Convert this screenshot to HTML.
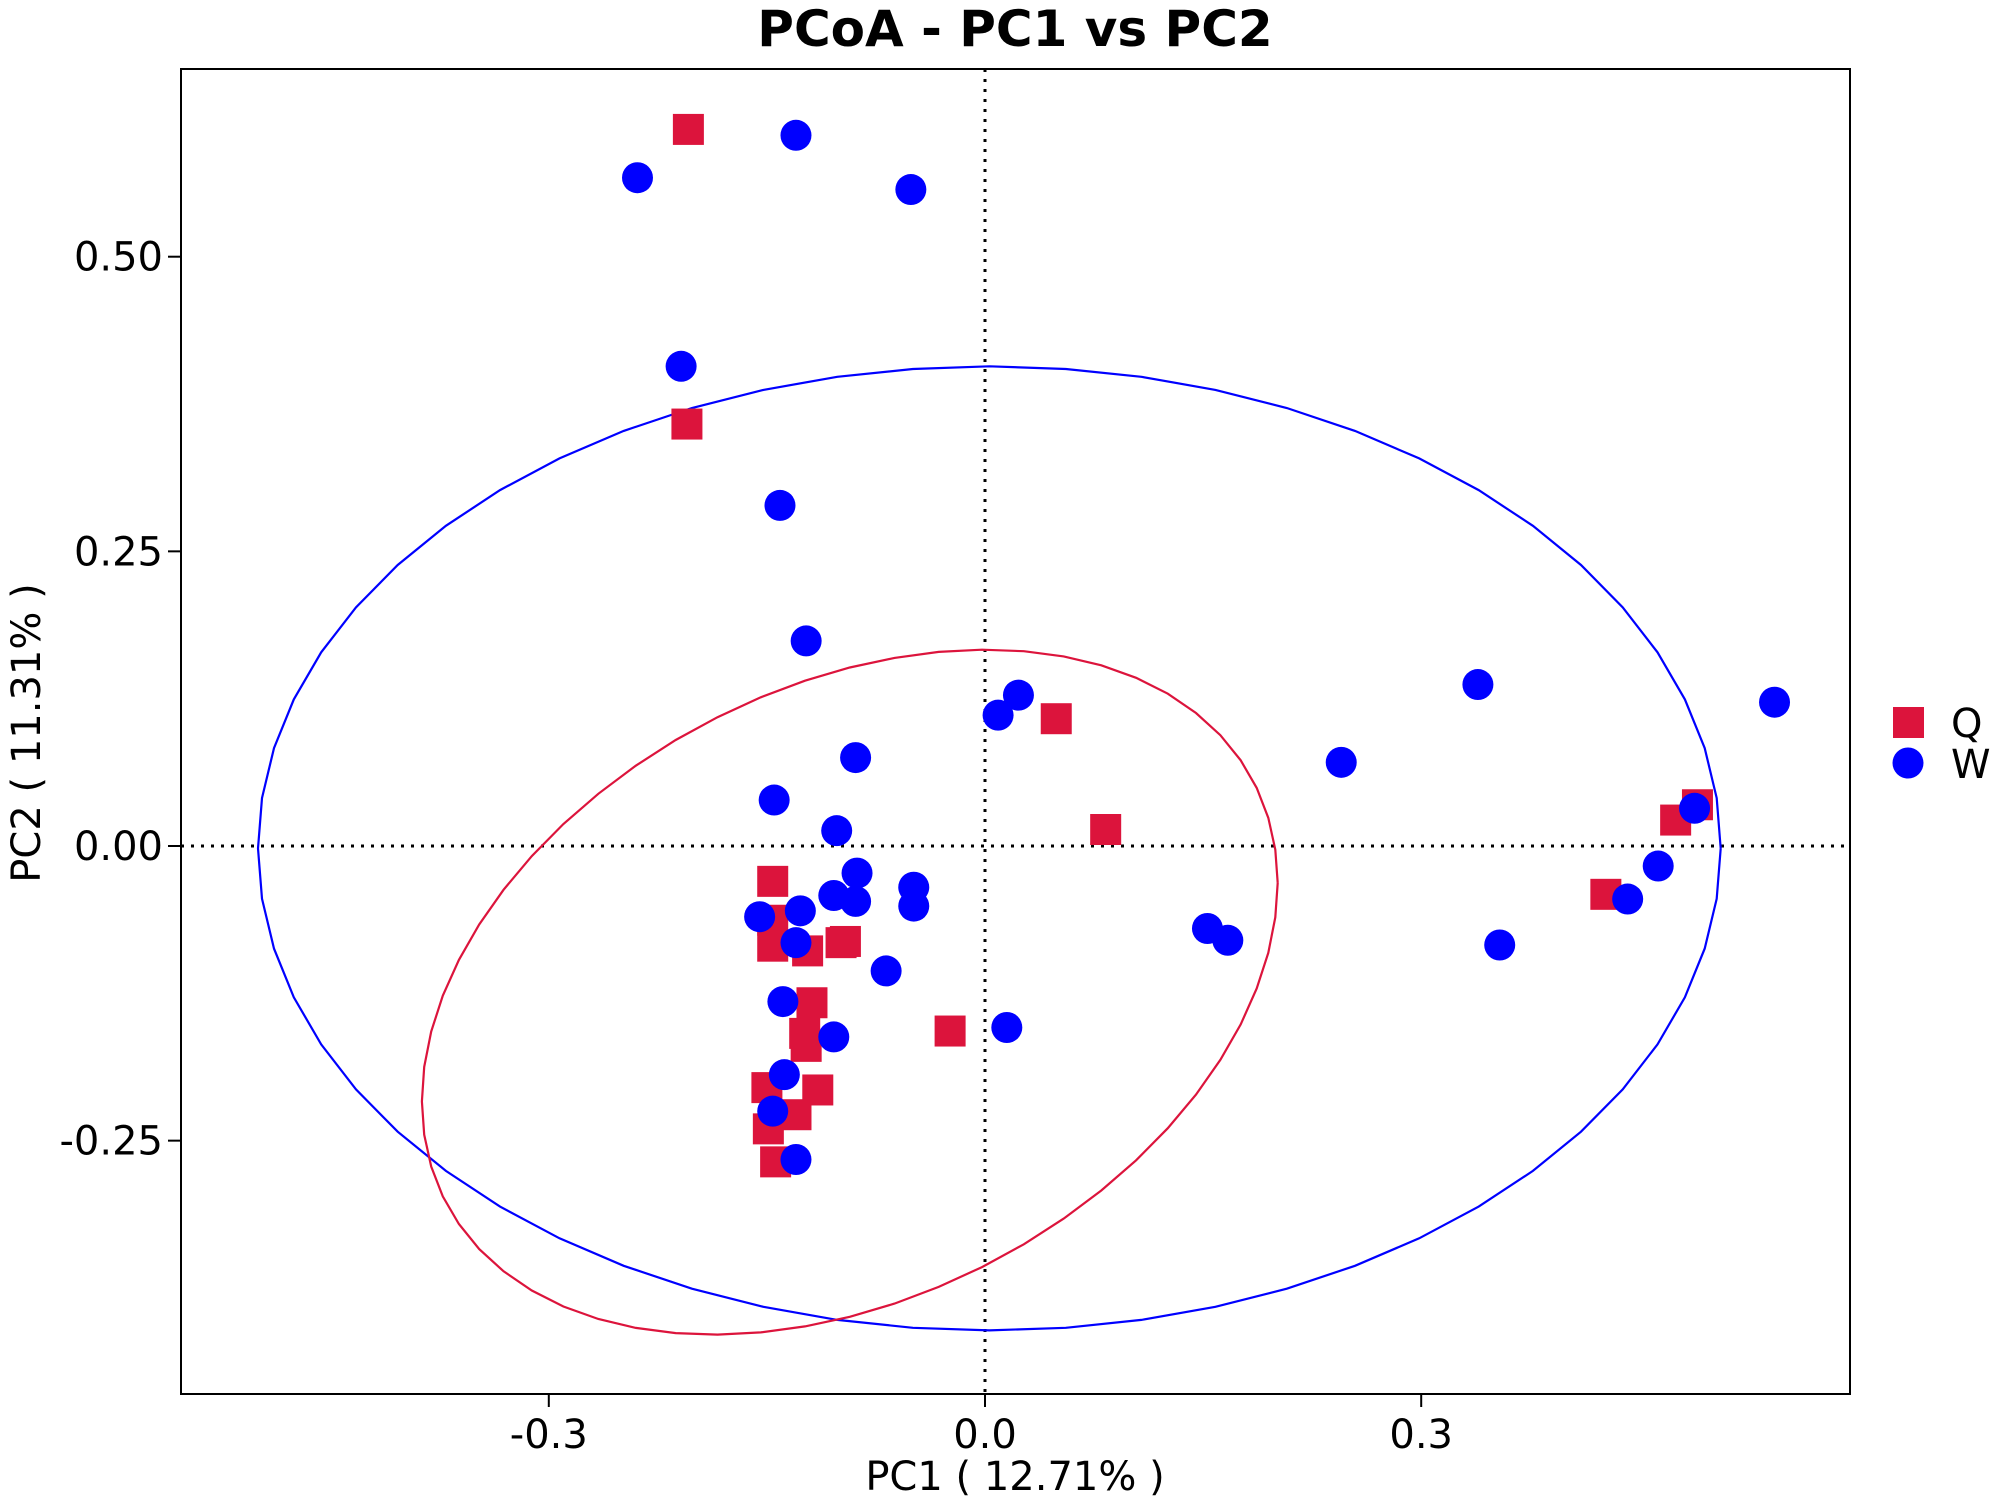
<!DOCTYPE html>
<html><head><meta charset="utf-8"><style>
html,body{margin:0;padding:0;background:#fff;}
svg{display:block;font-family:"DejaVu Sans","Liberation Sans",sans-serif;}
</style></head><body>
<svg id="chart" width="2000" height="1502" viewBox="0 0 2000 1502">
<text x="1015" y="46" font-size="50" font-weight="bold" text-anchor="middle">PCoA - PC1 vs PC2</text>
<rect x="181" y="69" width="1669" height="1325" fill="none" stroke="#000" stroke-width="2"/>
<g id="grid"></g><g id="ell"></g><g id="marks"></g><g id="axes"></g>
<text x="1015" y="1490" font-size="40" text-anchor="middle">PC1 ( 12.71% )</text>
<text transform="translate(40,733) rotate(-90)" font-size="40" text-anchor="middle">PC2 ( 11.31% )</text>
<g>
<rect x="1893" y="707" width="31" height="31" fill="#DC143C"/>
<text x="1951" y="737" font-size="40">Q</text>
<circle cx="1908" cy="763" r="15.5" fill="#0000FF"/>
<text x="1951" y="778" font-size="40">W</text>
</g>
</svg>
<script>
const qX=[-0.204,-0.205,0.049,0.083,-0.146,-0.146,-0.146,-0.122,-0.099,-0.096,-0.119,-0.124,-0.123,-0.024,-0.150,-0.115,-0.130,-0.149,-0.144,0.427,0.475,0.490];
const qY=[0.608,0.358,0.108,0.014,-0.030,-0.063,-0.085,-0.089,-0.082,-0.081,-0.133,-0.159,-0.170,-0.157,-0.205,-0.207,-0.228,-0.240,-0.268,-0.041,0.022,0.035];
const wX=[-0.239,-0.130,-0.051,-0.209,-0.141,-0.123,0.009,0.023,-0.089,-0.145,-0.102,-0.088,-0.104,-0.089,-0.049,-0.049,-0.155,-0.127,-0.130,-0.068,-0.139,-0.104,0.015,-0.138,-0.146,-0.130,0.153,0.167,0.245,0.339,0.354,0.442,0.463,0.488,0.543];
const wY=[0.567,0.603,0.557,0.407,0.289,0.174,0.111,0.128,0.075,0.039,0.013,-0.023,-0.042,-0.047,-0.035,-0.051,-0.060,-0.055,-0.082,-0.106,-0.132,-0.162,-0.154,-0.194,-0.225,-0.266,-0.070,-0.080,0.071,0.137,-0.084,-0.045,-0.017,0.032,0.122];
const xTicks=[-0.3,0.0,0.3];
const xTickLabels=["-0.3","0.0","0.3"];
const yTicks=[0.5,0.25,0,-0.25];
const yTickLabels=["0.50","0.25","0.00","-0.25"];
// ellipse: center x, center y, sd-x, sd-y, cov-term (data units)
const qEllipse=[-0.093,-0.124,0.2943,0.2906,0.0927];
const wEllipse=[0.003,-0.002,0.503,0.409,0.0];

const L=181,R=1850,T=69,B=1394;
const sx=v=>985+v*1454;
const sy=v=>846-v*1178.6;
const NS="http://www.w3.org/2000/svg";
function mk(tag,attrs,parent){const e=document.createElementNS(NS,tag);for(const k in attrs)e.setAttribute(k,attrs[k]);document.getElementById(parent).appendChild(e);return e;}

let g=mk('line',{x1:L,x2:R,y1:sy(0),y2:sy(0),stroke:'#000','stroke-width':3,'stroke-dasharray':'3 7'},'grid');


g=mk('line',{x1:sx(0),x2:sx(0),y1:T,y2:B,stroke:'#000','stroke-width':3,'stroke-dasharray':'3 7'},'grid');



function ellipse(p,color,name){
  let pts=[];
  for(let i=0;i<=60;i++){const t=i/60*2*Math.PI;
    const x=p[0]+p[2]*Math.cos(t);
    const y=p[1]+(p[4]*Math.cos(t)+Math.sqrt(Math.max(p[3]*p[3]-p[4]*p[4],0))*Math.sin(t));
    pts.push(sx(x).toFixed(1)+','+sy(y).toFixed(1));}
  const e=mk('polyline',{points:pts.join(' '),fill:'none',stroke:color,'stroke-width':2.2},'ell');
  
  
}
ellipse(wEllipse,'#0000FF','ellipse-w');
ellipse(qEllipse,'#DC143C','ellipse-q');

for(let i=0;i<qX.length;i++){
  const r=mk('rect',{x:sx(qX[i])-15.5,y:sy(qY[i])-15.5,width:31,height:31,fill:'#DC143C'},'marks');
  
  
}
for(let i=0;i<wX.length;i++){
  const c=mk('circle',{cx:sx(wX[i]),cy:sy(wY[i]),r:15.5,fill:'#0000FF'},'marks');
  
  
}
xTicks.forEach((v,i)=>{
  const t=mk('line',{x1:sx(v),x2:sx(v),y1:B,y2:B+13,stroke:'#000','stroke-width':2},'axes');
  
  
  const l=mk('text',{x:sx(v),y:1448,'font-size':40,'text-anchor':'middle'},'axes');
  l.textContent=xTickLabels[i];
  
  
});
yTicks.forEach((v,i)=>{
  const t=mk('line',{x1:L-13,x2:L,y1:sy(v),y2:sy(v),stroke:'#000','stroke-width':2},'axes');
  
  
  const l=mk('text',{x:163,y:sy(v)+14,'font-size':40,'text-anchor':'end'},'axes');
  l.textContent=yTickLabels[i];
  
  
});
</script>
</body></html>
